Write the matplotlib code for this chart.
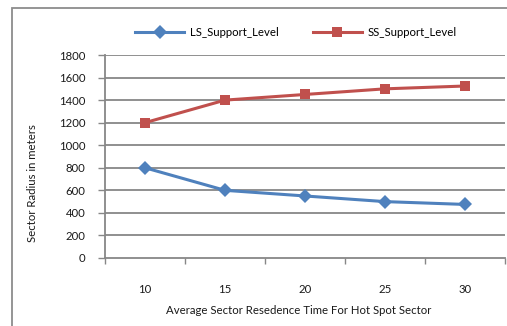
import matplotlib
matplotlib.use("Agg")
import matplotlib.pyplot as plt
from matplotlib.patches import Rectangle
from matplotlib.lines import Line2D

plt.rcParams['font.family'] = ['Lato', 'DejaVu Sans']

residence_time = [10, 15, 20, 25, 30]
ls_support = [800, 600, 550, 500, 475]
ss_support = [1200, 1400, 1450, 1500, 1525]
y_ticks = [0, 200, 400, 600, 800, 1000, 1200, 1400, 1600, 1800]

W, H, DPI = 507, 326, 100
FS = 8.2
fig = plt.figure(figsize=(W / DPI, H / DPI), dpi=DPI)
fig.patch.set_facecolor('white')

# chart-area frame
fig.add_artist(Rectangle((12 / W, -0.1), 1.2, (H - 8) / H + 0.1,
                         transform=fig.transFigure, fill=False,
                         edgecolor='#8c8c8c', linewidth=1.3))

left, right, top, bottom = 105, 505, 55, 258
ax = fig.add_axes([left / W, 1 - bottom / H, (right - left) / W, (bottom - top) / H])

grid_c = '#878787'
blue = '#4F81BD'
red = '#C0504D'
txt_c = '#1a1a1a'

ax.plot(residence_time, ls_support, color=blue, linewidth=2.2, marker='D',
        markersize=7, markeredgewidth=0, zorder=3)
ax.plot(residence_time, ss_support, color=red, linewidth=2.2, marker='s',
        markersize=7.5, markeredgewidth=0, zorder=3)

ax.set_xlim(7.5, 32.5)
ax.set_ylim(0, 1800)
ax.set_yticks(y_ticks)
ax.set_yticklabels([str(v) for v in y_ticks])
for yv in y_ticks[1:]:
    ax.axhline(yv, color=grid_c, linewidth=1.3, zorder=1)

ax.set_xticks([7.5, 12.5, 17.5, 22.5, 27.5, 32.5])
ax.set_xticklabels([])
ax.set_xticks(residence_time, minor=True)
ax.set_xticklabels([str(v) for v in residence_time], minor=True)
ax.tick_params(axis='x', which='major', length=4, width=1, color=grid_c, direction='out')
ax.tick_params(axis='x', which='minor', length=0, pad=19, labelsize=FS, labelcolor=txt_c)
ax.tick_params(axis='y', length=5, width=1, color=grid_c, direction='out', pad=9,
               labelsize=FS, labelcolor=txt_c)

for s in ['top', 'right']:
    ax.spines[s].set_visible(False)
for s in ['left', 'bottom']:
    ax.spines[s].set_color(grid_c)
    ax.spines[s].set_linewidth(1.3)

fig.text(299 / W, 1 - 311 / H, 'Average Sector Resedence Time For Hot Spot Sector',
         ha='center', va='center', fontsize=FS, color=txt_c)
fig.text(33 / W, 1 - 183 / H, 'Sector Radius in meters', rotation=90,
         ha='center', va='center', fontsize=FS, color=txt_c)

handles = [Line2D([], [], color=blue, linewidth=2.2, marker='D', markersize=7, markeredgewidth=0),
           Line2D([], [], color=red, linewidth=2.2, marker='s', markersize=7.5, markeredgewidth=0)]
fig.legend(handles, ['LS_Support_Level', 'SS_Support_Level'], loc='center',
           bbox_to_anchor=(296 / W, 1 - 32 / H), ncol=2, frameon=False,
           fontsize=FS, handlelength=4.3, handletextpad=0.5, columnspacing=3.0)

fig.savefig('out.png', dpi=DPI)
